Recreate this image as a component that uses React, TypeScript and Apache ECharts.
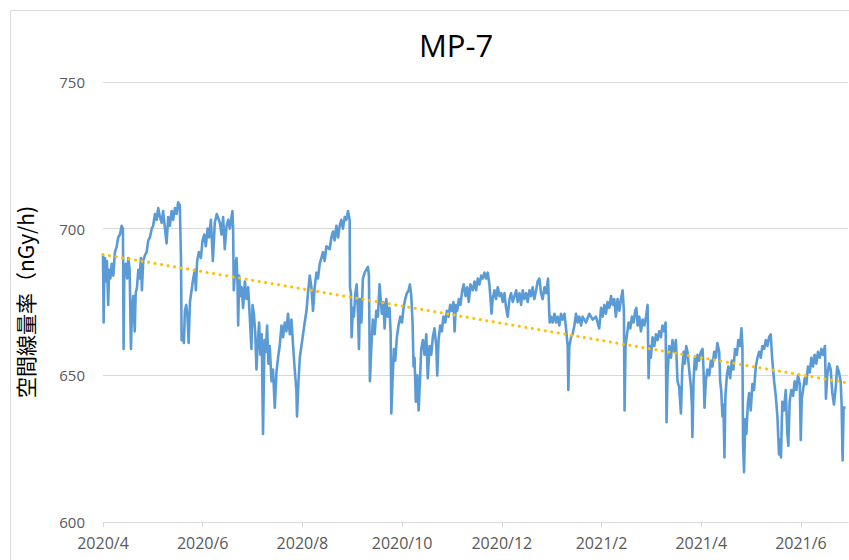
import React, { useEffect, useRef } from "react";
import * as echarts from "echarts";

// Air dose rate readings, [days since 2020/4/1, nGy/h]
const seg2020AprJun: [number, number][] = [
  [0, 691], [0.4, 668], [0.8, 686], [1.2, 690], [1.8, 682], [2.4, 689], [3.2, 674], [3.7, 686], [4.5, 683], [5.3, 688],
  [6.3, 684], [7.3, 692], [8.4, 694], [9.3, 697], [10.4, 698], [11.4, 701], [12.2, 700], [12.6, 659], [13.0, 684], [13.9, 688],
  [14.8, 683], [15.5, 690], [16.3, 686], [17.1, 659], [17.7, 672], [18.5, 677], [19.4, 665], [20.0, 678], [20.8, 680], [21.6, 686],
  [22.4, 683], [23.2, 690], [23.8, 679], [24.6, 689], [25.7, 691], [26.7, 692], [27.7, 696], [28.7, 697], [29.8, 700], [30.7, 701],
  [31.8, 705], [32.8, 703], [33.8, 707], [34.8, 704], [35.9, 702], [36.8, 706], [37.9, 700], [38.9, 695], [39.9, 704], [40.9, 701],
  [42.0, 706], [42.9, 703], [44.0, 707], [45.0, 705], [46.0, 709], [47.0, 708], [47.7, 690], [48.1, 662], [48.9, 664], [49.5, 661],
  [50.1, 672], [50.9, 674], [51.7, 670], [52.4, 661], [53.2, 675], [54.2, 679], [55.2, 683], [56.2, 686], [56.8, 679], [57.6, 689],
  [58.7, 692], [59.9, 690], [60.9, 696], [61.9, 698], [62.9, 694], [64.0, 700], [64.9, 697], [66.0, 703], [67.2, 689], [68.4, 702],
  [69.6, 705], [71.5, 702], [72.5, 698], [73.5, 704], [74.5, 693], [75.6, 701], [76.6, 703], [77.6, 700], [78.6, 704], [79.2, 706],
  [79.6, 700], [80.0, 679], [80.8, 686], [81.7, 690], [82.3, 681], [82.7, 667], [83.3, 684], [84.1, 677], [84.9, 680], [85.7, 673],
  [86.8, 682], [87.8, 676], [88.8, 680], [89.8, 670], [90.8, 659],
];
const seg2020JulSep: [number, number][] = [
  [91.5, 674], [92.3, 671], [93.1, 665], [93.9, 652], [94.7, 661], [95.5, 668], [96.3, 657], [97.1, 664], [97.9, 630], [98.8, 662],
  [99.6, 658], [100.4, 667], [101.2, 654], [102.0, 660], [103.1, 648], [104.0, 652], [105.1, 639], [106.1, 651], [107.1, 656], [108.1, 660],
  [109.2, 667], [110.2, 663], [111.2, 668], [112.2, 665], [113.2, 671], [114.3, 664], [115.3, 669], [116.3, 660], [117.3, 652], [118.3, 645],
  [118.7, 636], [119.6, 648], [120.4, 656], [121.4, 660], [122.4, 664], [123.4, 668], [124.5, 672], [125.4, 678], [126.5, 684], [127.5, 680],
  [128.5, 672], [129.5, 680], [130.6, 685], [131.5, 683], [132.6, 688], [134.6, 692], [135.6, 689], [136.7, 694], [138.7, 693], [139.7, 697],
  [140.7, 699], [141.7, 696], [142.8, 701], [143.8, 697], [144.8, 701], [145.8, 703], [146.8, 700], [147.9, 704], [148.9, 703], [149.9, 706],
  [150.9, 703], [151.1, 680], [151.7, 678], [152.1, 663], [152.9, 673], [153.5, 670], [154.4, 678], [155.2, 681], [156.0, 671], [156.6, 659],
  [157.2, 676], [158.1, 668], [159.0, 683], [160.1, 685], [161.1, 686], [162.1, 687], [162.7, 684], [163.3, 648], [164.2, 660], [165.1, 669],
  [166.2, 664], [167.2, 672], [168.2, 670], [169.2, 681], [169.9, 676], [170.6, 671], [171.5, 675], [172.3, 666], [173.3, 676], [174.3, 670],
  [175.3, 673], [176.0, 664], [176.4, 637], [177.2, 649], [178.0, 659], [178.8, 655], [179.8, 663], [180.8, 667], [181.9, 670],
];
const seg2020OctDec: [number, number][] = [
  [182.9, 668], [183.9, 673], [184.9, 676], [185.9, 678], [187.0, 679], [187.8, 681], [188.6, 677], [189.4, 668], [190.0, 653], [190.6, 656],
  [191.4, 641], [192.3, 650], [193.1, 638], [193.9, 648], [194.7, 659], [195.7, 662], [196.7, 657], [197.8, 664], [198.7, 649], [199.8, 660],
  [200.8, 657], [201.8, 663], [202.8, 666], [203.9, 660], [204.5, 650], [205.3, 662], [206.3, 667], [207.3, 665], [208.3, 670], [209.4, 668],
  [210.4, 672], [211.4, 670], [212.4, 674], [213.4, 672], [214.4, 675], [215.1, 665], [215.9, 674], [216.7, 672], [217.7, 676], [218.7, 674],
  [219.8, 679], [220.7, 681], [221.8, 677], [222.8, 680], [223.8, 675], [224.8, 681], [226.2, 679], [227.3, 682], [228.3, 679], [229.3, 683],
  [230.3, 681], [231.4, 684], [232.3, 683], [233.4, 685], [234.4, 683], [235.4, 685], [236.4, 681], [237.1, 676], [237.7, 671], [238.4, 676],
  [239.5, 679], [240.5, 676], [241.5, 680], [242.6, 677], [243.6, 678], [244.6, 675], [245.6, 678], [246.6, 673], [247.6, 670], [248.7, 676],
  [249.7, 678], [250.7, 675], [252.8, 679], [253.7, 675], [254.8, 678], [255.8, 674], [256.8, 679], [257.8, 676], [258.9, 678], [259.8, 675],
  [260.9, 679], [261.9, 677], [262.9, 680], [263.9, 676], [265.0, 679], [265.9, 682], [267.0, 683], [268.0, 678], [269.0, 676], [270.1, 680],
  [271.1, 678], [272.3, 683], [272.9, 673],
];
const seg2021JanMar: [number, number][] = [
  [273.3, 668], [274.1, 670], [275.1, 668], [276.2, 671], [277.2, 668], [278.2, 670], [279.2, 667], [280.2, 671], [281.2, 669], [282.3, 671],
  [283.3, 666], [284.3, 660], [284.7, 645], [285.3, 660], [286.4, 663], [287.3, 664], [288.4, 667], [289.4, 671], [290.4, 668], [291.4, 670],
  [292.5, 667], [293.4, 670], [295.5, 668], [297.5, 671], [299.6, 669], [301.6, 670], [303.6, 666], [304.7, 673], [305.7, 670], [306.7, 674],
  [307.7, 671], [308.7, 675], [309.8, 673], [310.8, 677], [311.8, 674], [312.8, 676], [313.8, 670], [314.8, 676], [315.9, 672], [316.9, 676],
  [317.9, 679], [318.7, 672], [319.1, 638], [319.7, 660], [320.6, 664], [321.6, 668], [322.6, 666], [323.6, 670], [324.6, 668], [325.6, 672],
  [326.3, 673], [327.1, 667], [328.1, 670], [329.1, 665], [330.1, 669], [331.2, 667], [332.2, 670], [333.2, 674], [333.8, 649], [334.4, 660],
  [335.2, 656], [336.2, 663], [337.3, 660], [338.3, 664], [339.3, 662], [340.3, 665], [341.3, 663], [342.3, 667], [343.4, 665], [344.2, 668],
  [344.8, 634], [345.4, 650], [346.4, 660], [347.5, 656], [348.4, 662], [349.5, 658], [350.5, 662], [351.5, 648], [352.5, 646], [353.6, 637],
  [354.4, 652], [355.2, 658], [356.0, 654], [356.8, 660], [357.6, 658], [358.6, 652], [359.7, 646], [360.3, 640], [360.6, 629], [361.3, 648],
  [362.1, 656], [362.9, 652], [363.7, 657], [364.7, 655],
];
const seg2021AprJun: [number, number][] = [
  [365.8, 658], [366.8, 659], [367.4, 652], [368.0, 639], [368.8, 648], [369.8, 652], [370.9, 650], [371.9, 655], [372.9, 653], [373.9, 658],
  [374.9, 656], [375.9, 661], [377.0, 658], [377.6, 648], [378.2, 645], [379.0, 636], [379.6, 640], [380.2, 622], [380.8, 643], [381.7, 650],
  [382.6, 653], [383.7, 649], [384.7, 655], [385.7, 652], [386.7, 659], [387.8, 657], [388.7, 662], [389.8, 660], [390.6, 666], [391.2, 660],
  [391.6, 627], [392.2, 617], [392.9, 635], [393.6, 630], [394.5, 640], [395.3, 644], [396.3, 638], [397.3, 647], [398.3, 645], [399.4, 653],
  [400.4, 656], [401.4, 658], [402.4, 656], [403.4, 660], [404.5, 659], [405.5, 662], [406.5, 660], [407.5, 663], [408.5, 664], [409.5, 655],
  [410.6, 648], [411.6, 643], [412.6, 636], [413.6, 623], [414.2, 628], [414.8, 622], [415.6, 641], [416.6, 638], [417.7, 645], [418.7, 630],
  [419.3, 626], [420.1, 641], [421.1, 645], [422.2, 643], [423.2, 648], [424.2, 645], [425.2, 650], [426.3, 647], [426.9, 628], [427.5, 642],
  [428.3, 645], [429.3, 649], [430.3, 647], [431.3, 653], [432.4, 651], [433.4, 656], [434.4, 653], [435.4, 657], [436.4, 654], [437.4, 658],
  [438.5, 656], [439.5, 659], [440.5, 657], [441.7, 660], [442.3, 642], [443.1, 650], [444.2, 654], [445.2, 652], [446.2, 644], [447.2, 640],
  [448.3, 646], [449.2, 653], [450.3, 651], [451.3, 648], [451.9, 640], [452.5, 621], [453.1, 639], [454.3, 639],
];

// Linear trend line (start / end)
const trendDays = [0, 455.8];
const trendValues = [691.2, 647.4];

// Axis tick labels, every 61 days from 2020/4/1
const xTickLabels = ["2020/4", "2020/6", "2020/8", "2020/10", "2020/12", "2021/2", "2021/4", "2021/6"];
const xTickStep = 61;
const xMax = 455.8;
const yMin = 600;
const yMax = 750;
const yStep = 50;

const title = "MP-7";
const yAxisTitle = "空間線量率（nGy/h)";

const LATIN = "'Open Sans', 'Noto Sans', sans-serif";

export default function App() {
  const ref = useRef<HTMLDivElement>(null);
  useEffect(() => {
    if (!ref.current) return;
    const chart = echarts.init(ref.current, undefined, { renderer: "svg" });
    const readings = [
      ...seg2020AprJun,
      ...seg2020JulSep,
      ...seg2020OctDec,
      ...seg2021JanMar,
      ...seg2021AprJun,
    ];
    chart.setOption({
      animation: false,
      backgroundColor: "#ffffff",
      graphic: [
        {
          type: "rect",
          shape: { x: 10.5, y: 10.5, width: 900, height: 600 },
          style: { fill: "none", stroke: "#D9D9D9", lineWidth: 1 },
          silent: true,
        },
        {
          type: "text",
          x: 456,
          y: 45,
          style: {
            text: title,
            fontSize: 31,
            fontFamily: LATIN,
            fill: "#000000",
            align: "center",
            verticalAlign: "middle",
            textAlign: "center",
            textVerticalAlign: "middle",
          },
        },
      ],
      grid: { left: 103, right: 1, top: 82, bottom: 38, containLabel: false },
      xAxis: {
        type: "value",
        min: 0,
        max: xMax,
        interval: xTickStep,
        axisLine: { show: true, lineStyle: { color: "#D9D9D9", width: 1 } },
        axisTick: { show: true, inside: false, length: 5, lineStyle: { color: "#D9D9D9" } },
        splitLine: { show: false },
        axisLabel: {
          margin: 13,
          fontSize: 16,
          fontFamily: LATIN,
          color: "#595959",
          showMaxLabel: false,
          formatter: (v: number) => {
            const i = Math.round(v / xTickStep);
            if (Math.abs(v - i * xTickStep) > 0.01) return "";
            return xTickLabels[i] ?? "";
          },
        },
      },
      yAxis: {
        type: "value",
        min: yMin,
        max: yMax,
        interval: yStep,
        name: yAxisTitle,
        nameLocation: "middle",
        nameRotate: 90,
        nameGap: 68,
        nameTextStyle: {
          fontSize: 21,
          color: "#000000",
          fontFamily: "'Noto Sans CJK JP', 'Noto Sans', sans-serif",
        },
        axisLine: { show: false },
        axisTick: { show: false },
        splitLine: { show: true, lineStyle: { color: "#D9D9D9", width: 1 } },
        axisLabel: { margin: 18, fontSize: 15, fontFamily: LATIN, color: "#595959" },
      },
      series: [
        {
          type: "line",
          name: "MP-7",
          data: readings,
          showSymbol: false,
          symbol: "none",
          lineStyle: { color: "#5B9BD5", width: 2.6, join: "round" },
          z: 2,
        },
        {
          type: "line",
          name: "trend",
          data: trendDays.map((d, i) => [d, trendValues[i]]),
          showSymbol: false,
          symbol: "none",
          lineStyle: { color: "#FFC000", width: 3, type: [0.1, 6.5], cap: "round" },
          z: 3,
        },
      ],
    });
    return () => chart.dispose();
  }, []);
  return (
    <div
      ref={ref}
      style={{ position: "fixed", left: 0, top: 0, width: 849, height: 560 }}
    />
  );
}
